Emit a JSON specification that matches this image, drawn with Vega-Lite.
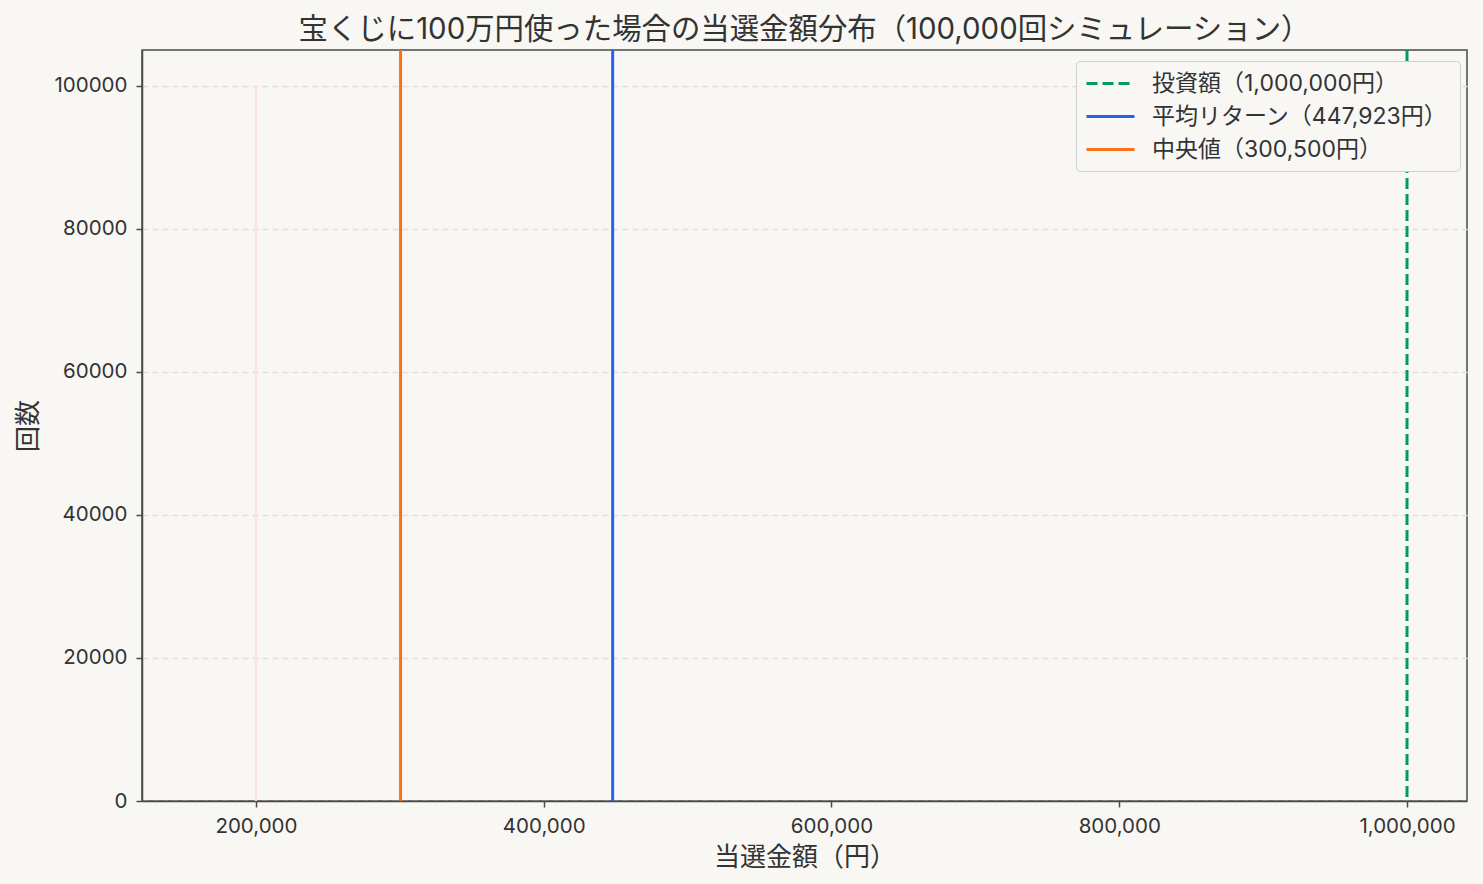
{
  "$schema": "https://vega.github.io/schema/vega-lite/v6.json",
  "autosize": {"type": "none"},
  "width": 1325,
  "height": 751,
  "padding": {"left": 142, "top": 50, "right": 16, "bottom": 83},
  "background": "#f8f7f4",
  "config": {
    "font": "Inter, Noto Sans CJK JP",
    "view": {"stroke": "#4a4a4a", "strokeWidth": 1.5, "fill": "#f8f7f4"},
    "axis": {
      "labelFont": "Inter, Noto Sans CJK JP",
      "titleFont": "Noto Sans CJK JP",
      "labelColor": "#333333",
      "titleColor": "#333333",
      "labelFontSize": 20.5,
      "titleFontSize": 26,
      "titleFontWeight": "normal",
      "tickColor": "#4a4a4a",
      "tickSize": 6,
      "tickWidth": 1.5,
      "domainColor": "#4a4a4a",
      "domainWidth": 1.5
    }
  },
  "title": {
    "text": "宝くじに100万円使った場合の当選金額分布（100,000回シミュレーション）",
    "font": "Inter, Noto Sans CJK JP",
    "fontSize": 29.4,
    "fontWeight": "normal",
    "color": "#333333",
    "anchor": "middle",
    "offset": 3
  },
  "datasets": {
    "hist": [
      {"金額": 200000, "回数": 100000}
    ],
    "lines": [
      {"label": "投資額（1,000,000円）", "金額": 1000000},
      {"label": "平均リターン（447,923円）", "金額": 447923},
      {"label": "中央値（300,500円）", "金額": 300500}
    ]
  },
  "layer": [
    {
      "data": {"name": "hist"},
      "mark": {"type": "rule", "color": "#fbe3e3", "strokeWidth": 2},
      "encoding": {
        "x": {
          "field": "金額",
          "type": "quantitative",
          "scale": {"domain": [120800, 1041700], "nice": false, "zero": false},
          "axis": {
            "values": [200000, 400000, 600000, 800000, 1000000],
            "format": ",d",
            "grid": false,
            "labelPadding": 9,
            "titlePadding": 8
          },
          "title": "当選金額（円）"
        },
        "y": {
          "field": "回数",
          "type": "quantitative",
          "scale": {"domain": [0, 105000], "nice": false},
          "axis": {
            "values": [0, 20000, 40000, 60000, 80000, 100000],
            "format": "d",
            "grid": true,
            "gridColor": "#e0e0e0",
            "gridDash": [6, 4],
            "gridWidth": 1.4,
            "labelPadding": 9,
            "titlePadding": 12
          },
          "title": "回数"
        },
        "y2": {"datum": 0}
      }
    },
    {
      "data": {"name": "lines"},
      "mark": {"type": "rule", "strokeWidth": 3},
      "encoding": {
        "x": {"field": "金額", "type": "quantitative"},
        "color": {
          "field": "label",
          "type": "nominal",
          "scale": {
            "domain": ["投資額（1,000,000円）", "平均リターン（447,923円）", "中央値（300,500円）"],
            "range": ["#059669", "#2563eb", "#f97316"]
          },
          "legend": {
            "title": null,
            "orient": "none",
            "legendX": 934,
            "legendY": 11,
            "symbolType": "M-1,0H3",
            "symbolSize": 576,
            "symbolStrokeWidth": 3,
            "labelFont": "Inter, Noto Sans CJK JP",
            "labelFontSize": 23,
            "labelColor": "#333333",
            "labelOffset": 40,
            "rowPadding": 7,
            "padding": 9,
            "fillColor": "#f8f7f4",
            "strokeColor": "#d0d0d0",
            "cornerRadius": 4,
            "labelLimit": 400
          }
        },
        "strokeDash": {
          "field": "label",
          "type": "nominal",
          "scale": {
            "domain": ["投資額（1,000,000円）", "平均リターン（447,923円）", "中央値（300,500円）"],
            "range": [[11, 5], [1, 0], [1, 0]]
          },
          "legend": null
        }
      }
    }
  ]
}
